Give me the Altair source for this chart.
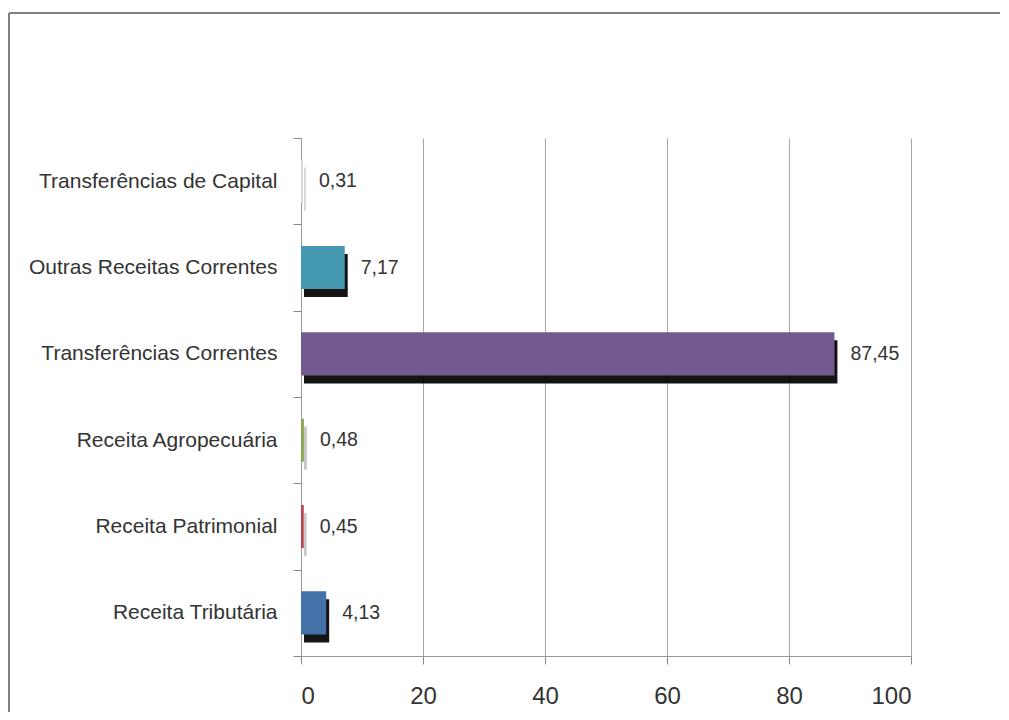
import altair as alt
import pandas as pd

categories = [
    "Transferências de Capital",
    "Outras Receitas Correntes",
    "Transferências Correntes",
    "Receita Agropecuária",
    "Receita Patrimonial",
    "Receita Tributária",
]
values = [0.31, 7.17, 87.45, 0.48, 0.45, 4.13]
colors = ["#D8D8D8", "#4499B0", "#725A8F", "#8AA94E", "#B5454F", "#4471A8"]
x_ticks = [0, 20, 40, 60, 80, 100]

df = pd.DataFrame({
    "cat": categories,
    "val": values,
    "lab": [f"{v:.2f}".replace(".", ",") for v in values],
})

W, H = 610, 518

y_enc = alt.Y(
    "cat:N",
    sort=categories,
    scale=alt.Scale(paddingInner=0, paddingOuter=0),
    axis=alt.Axis(
        title=None, grid=False, tickBand="extent", tickSize=8,
        tickColor="#888888", domainColor="#999999", labelPadding=16,
        labelFont="Liberation Sans", labelFontSize=21, labelColor="#333333",
        labelLimit=300,
    ),
)
x_enc = alt.X(
    "val:Q",
    scale=alt.Scale(domain=[0, 100], nice=False),
    axis=alt.Axis(
        title=None, values=x_ticks, grid=True, gridColor="#A6A6A6",
        tickSize=8, tickColor="#888888", domainColor="#999999",
        labelPadding=20, labelFont="Liberation Sans",
        labelFontSize=24, labelColor="#333333",
    ),
)

base = alt.Chart(df)
one = pd.DataFrame({"a": [0]})

frame_top = alt.Chart(one).mark_rule(stroke="#808080", strokeWidth=2, clip=False).encode(
    x=alt.value(-292), x2=alt.value(699), y=alt.value(-125)
)
frame_left = alt.Chart(one).mark_rule(stroke="#808080", strokeWidth=2, clip=False).encode(
    x=alt.value(-292), y=alt.value(-125), y2=alt.value(640)
)

shadow = base.mark_bar(color="#000000", xOffset=3, yOffset=8, height={"band": 0.5}).encode(
    x=x_enc,
    y=y_enc,
    opacity=alt.Opacity("val:Q", scale=alt.Scale(domain=[0, 3], range=[0.08, 0.92], clamp=True), legend=None),
)
bars = base.mark_bar(height={"band": 0.5}).encode(
    x=x_enc,
    y=y_enc,
    color=alt.Color("cat:N", scale=alt.Scale(domain=categories, range=colors), legend=None),
)
text = base.mark_text(
    align="left", baseline="middle", dx=16, fontSize=19.5,
    font="Liberation Sans", color="#333333",
).encode(x="val:Q", y=alt.Y("cat:N", sort=categories), text="lab:N")

chart = alt.layer(frame_top, frame_left, shadow, bars, text).properties(
    width=W, height=H,
    autosize=alt.AutoSizeParams(type="none"),
    padding={"left": 293, "top": 130, "right": 90, "bottom": 56},
).configure_view(stroke=None)

chart.save("out.html", embed_options={"renderer": "svg", "actions": False})
